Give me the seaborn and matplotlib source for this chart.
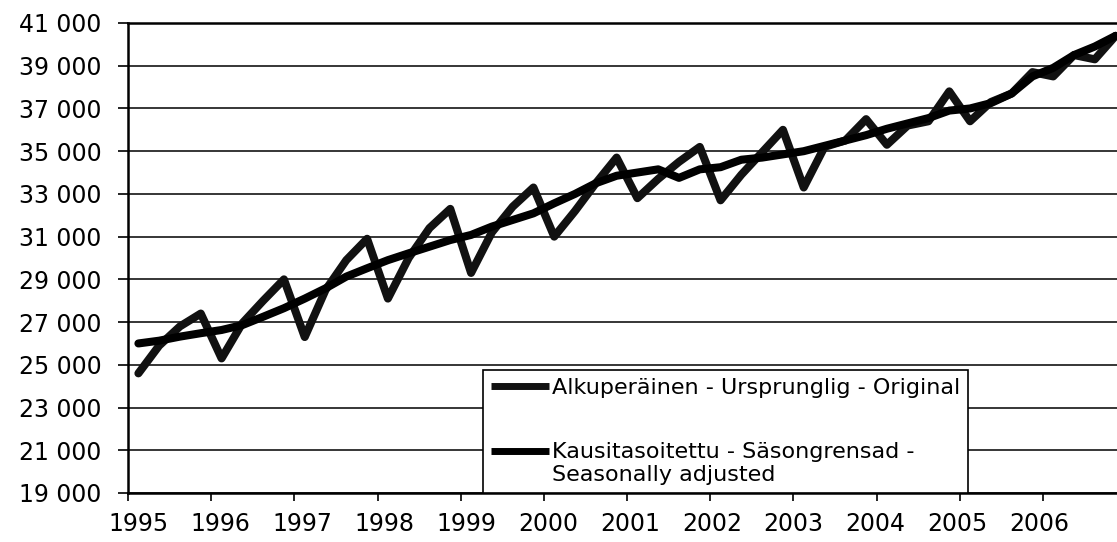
import numpy as np
import pandas as pd
import seaborn as sb
from matplotlib import pyplot as plt
from matplotlib.ticker import FixedLocator, FixedFormatter
from matplotlib.legend_handler import HandlerLine2D

# quarterly data 1995Q1 - 2006Q4
years = [str(y) for y in range(1995, 2007)]
original = [24600, 25900, 26800, 27400,
            25300, 26950, 28000, 29000,
            26300, 28500, 29900, 30900,
            28100, 30000, 31400, 32300,
            29300, 31200, 32400, 33300,
            31000, 32200, 33500, 34700,
            32800, 33700, 34500, 35200,
            32700, 33900, 34950, 36000,
            33300, 35200, 35500, 36500,
            35300, 36200, 36400, 37800,
            36400, 37300, 37700, 38700,
            38500, 39500, 39300, 40400]
adjusted = [26000, 26130, 26320, 26480,
            26630, 26860, 27250, 27650,
            28100, 28580, 29130, 29520,
            29900, 30220, 30530, 30840,
            31080, 31470, 31780, 32090,
            32560, 33000, 33500, 33850,
            34000, 34150, 33750, 34150,
            34250, 34600, 34700, 34850,
            35000, 35250, 35500, 35750,
            36050, 36300, 36550, 36900,
            37000, 37250, 37700, 38500,
            38900, 39500, 39900, 40400]
ytick_vals = list(range(19000, 41001, 2000))
ytick_labels = ['19 000', '21 000', '23 000', '25 000', '27 000', '29 000',
                '31 000', '33 000', '35 000', '37 000', '39 000', '41 000']
lab_orig = 'Alkuperäinen - Ursprunglig - Original'
lab_sa = 'Kausitasoitettu - Säsongrensad -\nSeasonally adjusted'

#######################################


class RaisedLine(HandlerLine2D):
    # legend line level with the first line of a 2-line label
    def create_artists(self, legend, orig_handle, xdescent, ydescent,
                       width, height, fontsize, trans):
        arts = super().create_artists(legend, orig_handle, xdescent, ydescent,
                                      width, height, fontsize, trans)
        for a in arts:
            a.set_ydata(np.asarray(a.get_ydata(), dtype=float) + 0.6 * fontsize)
        return arts


sb.set_style('white')
plt.rcParams['font.family'] = ['DejaVu Sans']
plt.rcParams['text.color'] = 'black'

n = len(original)
df = pd.DataFrame({
    'q': list(range(n)) * 2,
    'value': original + adjusted,
    'series': [lab_orig] * n + [lab_sa] * n,
})

fig = plt.figure(figsize=(11.17, 5.42), dpi=100)
# plot runs off the right edge of the picture, like the scan
ax = fig.add_axes([128 / 1117, 49 / 542, 998 / 1117, 470 / 542])

sb.lineplot(data=df, x='q', y='value', hue='series', sort=False,
            estimator=None, palette=['#111111', '#000000'],
            linewidth=5.8, ax=ax, legend=False)

ax.set_xlim(-0.5, n - 0.5)
ax.set_ylim(19000, 41000)
ax.set_xlabel('')
ax.set_ylabel('')

# y axis
ax.set_yticks(ytick_vals)
ax.set_yticklabels(ytick_labels, fontsize=17)
ax.yaxis.grid(True, color='black', linewidth=1.1)
ax.tick_params(axis='y', direction='out', length=7, width=1.2, pad=12,
               left=True, color='black', labelcolor='black')

# x axis: marks between years, labels under first quarter
ax.xaxis.set_major_locator(FixedLocator([4 * k - 0.5 for k in range(len(years))]))
ax.xaxis.set_major_formatter(FixedFormatter([''] * len(years)))
ax.xaxis.set_minor_locator(FixedLocator([3.94 * k for k in range(len(years))]))
ax.xaxis.set_minor_formatter(FixedFormatter(years))
ax.tick_params(axis='x', which='major', direction='out', length=6, width=1.2,
               bottom=True, color='black')
ax.tick_params(axis='x', which='minor', length=0, pad=14, labelsize=17,
               labelcolor='black')
ax.xaxis.grid(False)

for s in ['left', 'top', 'bottom']:
    ax.spines[s].set_visible(True)
    ax.spines[s].set_color('black')
    ax.spines[s].set_linewidth(1.8)
ax.spines['right'].set_visible(False)

h = [plt.Line2D([], [], color='#111111', linewidth=5, solid_capstyle='butt'),
     plt.Line2D([], [], color='#000000', linewidth=5, solid_capstyle='butt')]
leg = ax.legend(h, [lab_orig, lab_sa], loc='lower left',
                bbox_to_anchor=(0.356, 0.0), borderaxespad=0,
                fontsize=16, handlelength=2.6, handletextpad=0.15,
                labelspacing=2.0, borderpad=0.35, fancybox=False,
                framealpha=1, edgecolor='black',
                handler_map={h[1]: RaisedLine()})
leg.get_frame().set_linewidth(1.2)

plt.savefig('out.png', dpi=100)
